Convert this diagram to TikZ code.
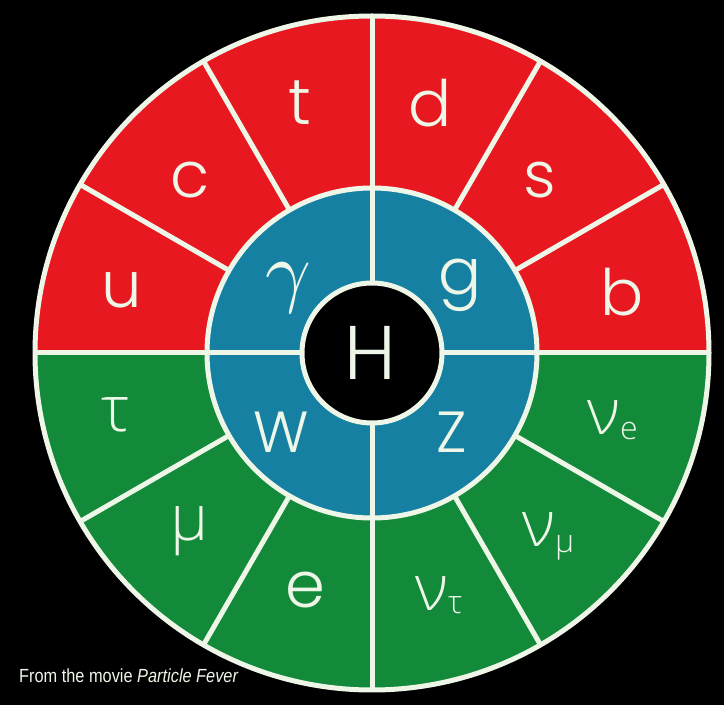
\documentclass[tikz,border=0pt]{standalone}
\usepackage{fontspec}
\setmainfont{Poppins Light}
\newfontfamily\grk{Open Sans Light}
\newfontfamily\lmmath{latinmodern-math.otf}
\newfontfamily\capfont[FakeStretch=0.86]{Liberation Sans}
\definecolor{pred}{RGB}{232,24,32}
\definecolor{pgreen}{RGB}{18,138,58}
\definecolor{pblue}{RGB}{22,128,162}
\definecolor{pline}{RGB}{238,246,232}
\tikzset{
  sep/.style={draw=pline,line width=5pt},
  lbl/.style={text=pline,inner sep=0pt,font=\fontsize{64}{64}\selectfont},
  glbl/.style={text=pline,inner sep=0pt,font=\grk\fontsize{64}{64}\selectfont},
}
\begin{document}
\begin{tikzpicture}[x=1pt,y=1pt]
\fill[black] (0,0) rectangle (724,705);
\useasboundingbox (0,0) rectangle (724,705);
\coordinate (C) at (372,352);
% sectors
\fill[pred] ([shift={(0:337)}]C) arc[start angle=0,end angle=180,radius=337] -- cycle;
\fill[pgreen] ([shift={(180:337)}]C) arc[start angle=180,end angle=360,radius=337] -- cycle;
\fill[pblue] (C) circle[radius=165];
\fill[black] (C) circle[radius=70];
% separators
\foreach \a in {30,60,120,150,210,240,300,330}
  \draw[sep] ([shift={(\a:165)}]C) -- ([shift={(\a:337)}]C);
\foreach \a in {0,90,180,270}
  \draw[sep] ([shift={(\a:70)}]C) -- ([shift={(\a:337)}]C);
\draw[sep] (C) circle[radius=337];
\draw[sep] (C) circle[radius=165];
\draw[sep] (C) circle[radius=70];
% quark labels
\node[lbl] (u) at (122,415) {u};
\node[lbl] (c) at (190,525) {c};
\node[lbl] (t) at (300,602) {t};
\node[lbl] (d) at (430,602) {d};
\node[lbl] (s) at (540,525) {s};
\node[lbl] (b) at (622,413) {b};
% leptons
\node[glbl] (tau) at (116,290) {τ};
\node[glbl] (mu) at (190,174) {µ};
\node[lbl] (e) at (305,115) {e};
\node[glbl,anchor=base west] (nut) at (415,94) {ν\raisebox{-3pt}{\fontsize{32}{32}\selectfont τ}};
\node[glbl,anchor=base west] (num) at (522,158) {ν\raisebox{-6pt}{\fontsize{32}{32}\selectfont µ}};
\node[glbl,anchor=base west] (nue) at (587,270) {ν\raisebox{-5pt}{\fontsize{32}{32}\selectfont e}};
% bosons
\node[text=pline,inner sep=0pt,font=\lmmath\fontsize{80}{80}\selectfont] (gam) at (286,417) {𝛾};
\node[lbl] (g) at (460,420) {g};
\node[lbl,font=\fontsize{58}{58}\selectfont] (W) at (281,273) {W};
\node[lbl,font=\fontsize{58}{58}\selectfont] (Z) at (452,273) {Z};
\node[lbl,font=\fontsize{76}{76}\selectfont] (H) at (370,352) {H};
% caption
\node[text=pline,anchor=base west,inner sep=0pt,font=\capfont\fontsize{19}{19}\selectfont] (cap) at (19,22) {From the movie \textit{Particle Fever}};
\end{tikzpicture}
\end{document}
